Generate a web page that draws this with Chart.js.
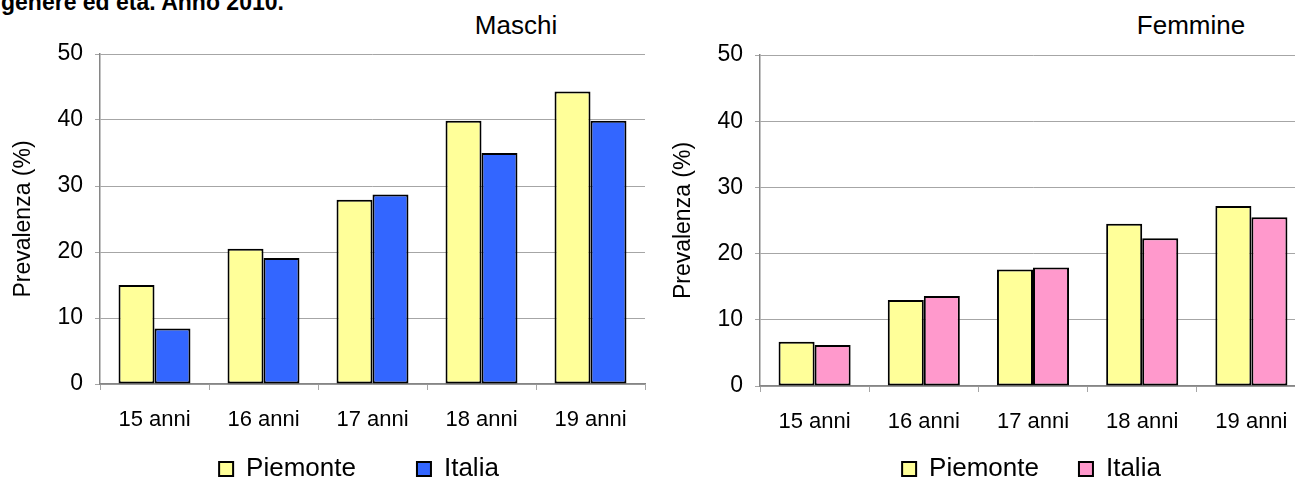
<!DOCTYPE html>
<html lang="it">
<head>
<meta charset="utf-8">
<title>Prevalenza per genere ed età</title>
<script src="https://cdn.jsdelivr.net/npm/chart.js@4.4.1/dist/chart.umd.min.js"></script>
<style>
  html, body { margin: 0; padding: 0; width: 1295px; height: 479px; overflow: hidden; background: #fff; }
  body { position: relative; font-family: "Liberation Sans", Arial, sans-serif; color: #000; }
  .intestazione { position: absolute; left: 1px; top: -9px; font-weight: bold; font-size: 23px; line-height: 23px; white-space: nowrap; }
  .sottotitolo { position: absolute; top: 12px; font-size: 26px; line-height: 26px; white-space: nowrap; transform: translateX(-50%); }
  canvas { position: absolute; top: 0; }
</style>
</head>
<body>
<div class="intestazione">genere ed età. Anno 2010.</div>
<div class="sottotitolo" style="left:516px">Maschi</div>
<div class="sottotitolo" style="left:1191px">Femmine</div>
<canvas id="chart-maschi" width="718" height="492" style="left:0"></canvas>
<canvas id="chart-femmine" width="743" height="492" style="left:660px"></canvas>

<script>
// === Dati ===
const categorie = ["15 anni", "16 anni", "17 anni", "18 anni", "19 anni"];
const maschiPiemonte = [15.0, 20.5, 27.9, 39.9, 44.3];
const maschiItalia = [8.4, 19.1, 28.7, 35.0, 39.9];
const femminePiemonte = [6.7, 13.0, 17.6, 24.5, 27.2];
const femmineItalia = [6.2, 13.6, 17.9, 22.3, 25.5];
const yTicks = [0, 10, 20, 30, 40, 50];

const GRIGLIA = "#a6a6a6";
const ASSE = "#868686";

Chart.defaults.font.family = '"Liberation Sans", Arial, sans-serif';
Chart.defaults.color = "#000";

function creaGrafico(id, piemonte, italia, coloreItalia, cfg) {
  const ctx = document.getElementById(id).getContext("2d");
  return new Chart(ctx, {
    type: "bar",
    data: {
      labels: categorie,
      datasets: [
        { label: "Piemonte", data: piemonte, backgroundColor: "#FFFF99", borderColor: "#000", borderWidth: 2, borderSkipped: false },
        { label: "Italia", data: italia, backgroundColor: coloreItalia, borderColor: "#000", borderWidth: 2, borderSkipped: false }
      ]
    },
    options: {
      responsive: false,
      animation: false,
      layout: { padding: { top: cfg.top, left: 0, right: 0, bottom: 0 } },
      datasets: { bar: { categoryPercentage: 0.66, barPercentage: 1 } },
      plugins: {
        legend: {
          position: "bottom",
          labels: { font: { size: 26 }, color: "#000", boxWidth: 14, boxHeight: 14, padding: cfg.legendPadding }
        },
        tooltip: { enabled: false }
      },
      scales: {
        x: {
          grid: { drawOnChartArea: false, offset: true, tickLength: 6, color: GRIGLIA },
          border: { color: ASSE, width: 1.5 },
          // mirror: le etichette non vengono ritagliate dal box (basso) dell'asse
          ticks: { font: { size: 22 }, color: "#000", mirror: true, padding: -49, maxRotation: 0 },
          afterFit: s => { s.height = cfg.xHeight; }
        },
        y: {
          min: yTicks[0],
          max: yTicks[yTicks.length - 1],
          ticks: { stepSize: yTicks[1] - yTicks[0], font: { size: 23 }, color: "#000", padding: 12 },
          grid: { color: GRIGLIA, tickLength: 5 },
          border: { color: ASSE, width: 1.5 },
          title: { display: true, text: "Prevalenza (%)", font: { size: 23 }, color: "#000", padding: { top: 10, bottom: 0 } },
          afterFit: s => { s.width = 100; }
        },
        // asse vuoto a destra: solo spazio, la legenda resta centrata sul canvas
        margine: {
          type: "linear",
          position: "right",
          display: true,
          grid: { display: false },
          border: { display: false },
          ticks: { display: false },
          afterFit: s => { s.width = cfg.rightPad; }
        }
      }
    }
  });
}

creaGrafico("chart-maschi", maschiPiemonte, maschiItalia, "#3366FF",
  { top: 54, xHeight: 11, legendPadding: 61, rightPad: 73 });
creaGrafico("chart-femmine", femminePiemonte, femmineItalia, "#FF99CC",
  { top: 55, xHeight: 30, legendPadding: 40, rightPad: 97 });
</script>
</body>
</html>
